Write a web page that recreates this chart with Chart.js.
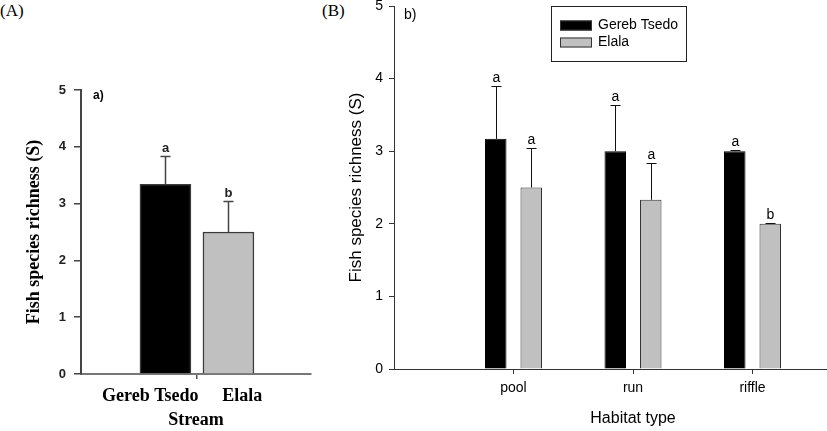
<!DOCTYPE html>
<html>
<head>
<meta charset="utf-8">
<script src="https://cdn.jsdelivr.net/npm/chart.js@4.4.0/dist/chart.umd.min.js"></script>
<style>
  html, body { margin: 0; padding: 0; background: #fff; width: 827px; height: 431px; overflow: hidden; position: relative; }
  .panel { position: absolute; top: 0; height: 431px; }
  #wrapA { left: 0; width: 320px; }
  #wrapB { left: 320px; width: 560px; }
  .tag { position: absolute; top: 1px; font-family: 'Liberation Serif', 'Times New Roman', serif; font-size: 17px; color: #000; }
</style>
</head>
<body>
<div class="tag" style="left:0">(A)</div>
<div class="tag" style="left:322px">(B)</div>
<div class="panel" id="wrapA"><canvas id="chartA" width="320" height="431"></canvas></div>
<div class="panel" id="wrapB"><canvas id="chartB" width="560" height="431"></canvas></div>
<script>
// panel A: richness by stream
const streams = ['Gereb Tsedo', 'Elala'];
const streamMeans = [3.34, 2.5];
const streamErr = [0.5, 0.55];
const streamLetters = ['a', 'b'];

// panel B: richness by habitat type
const habitats = ['pool', 'run', 'riffle'];
const gerebMeans = [3.17, 3.0, 3.0];
const gerebErr = [0.73, 0.64, 0.02];
const gerebLetters = ['a', 'a', 'a'];
const elalaMeans = [2.5, 2.33, 2.0];
const elalaErr = [0.54, 0.51, 0.01];
const elalaLetters = ['a', 'a', 'b'];

const yMax = 5;

const SERIF = "'Liberation Serif', 'Times New Roman', serif";
const SANS = "'Liberation Sans', Arial, sans-serif";

// where the stream names sit on panel A's x axis (between-bar tick at 1.5)
const streamLabelAt = [0.76, 2.22];

// error bars + significance letters
const errorBars = {
  id: 'errorBars',
  afterDatasetsDraw(chart, args, o) {
    const { ctx } = chart;
    const y = chart.scales.y;
    ctx.save();
    chart.data.datasets.forEach((ds, di) => {
      chart.getDatasetMeta(di).data.forEach((bar, i) => {
        const top = Math.round(y.getPixelForValue(ds.data[i].y + ds.errors[i])) + 0.5;
        const x = Math.round(bar.x) + 0.5;
        ctx.strokeStyle = o.color;
        ctx.lineWidth = o.width;
        ctx.beginPath();
        ctx.moveTo(x, bar.y);
        ctx.lineTo(x, top);
        ctx.moveTo(x - o.cap, top);
        ctx.lineTo(x + o.cap, top);
        ctx.stroke();
        ctx.fillStyle = o.letterColor;
        ctx.font = o.letterFont;
        ctx.textAlign = 'center';
        ctx.textBaseline = 'alphabetic';
        ctx.fillText(ds.letters[i], x, top - o.letterGap);
      });
    });
    ctx.restore();
  }
};

// panel sub-tag ("a)" / "b)") and optional boxed legend
const panelNotes = {
  id: 'panelNotes',
  afterDraw(chart, args, o) {
    const { ctx, chartArea } = chart;
    ctx.save();
    ctx.fillStyle = '#000';
    ctx.font = o.tagFont;
    ctx.textAlign = 'left';
    ctx.textBaseline = 'middle';
    ctx.fillText(o.tag, chartArea.left + o.tagDx, chartArea.top + o.tagDy);

    const lg = o.legend;
    if (lg) {
      ctx.strokeStyle = '#222';
      ctx.lineWidth = 1;
      ctx.strokeRect(lg.x + 0.5, lg.y + 0.5, lg.w, lg.h);
      ctx.font = lg.font;
      chart.data.datasets.forEach((ds, i) => {
        const cy = lg.y + lg.first + i * lg.step;
        ctx.fillStyle = ds.backgroundColor;
        ctx.fillRect(lg.x + 9, cy - 5, 32, 10);
        ctx.strokeStyle = '#333';
        ctx.strokeRect(lg.x + 9.5, cy - 4.5, 31, 9);
        ctx.fillStyle = '#000';
        ctx.fillText(ds.label, lg.x + 47, cy);
      });
    }
    ctx.restore();
  }
};

new Chart(document.getElementById('chartA'), {
  type: 'bar',
  data: {
    datasets: [{
      label: 'Stream',
      data: streams.map((s, i) => ({ x: i + 1, y: streamMeans[i] })),
      errors: streamErr,
      letters: streamLetters,
      backgroundColor: ['#000000', '#c0c0c0'],
      borderColor: '#3a3a3a',
      borderWidth: 1.5,
      barThickness: 51
    }]
  },
  options: {
    responsive: false,
    animation: false,
    layout: { padding: { top: 90, right: 9, bottom: 0, left: 0 } },
    plugins: {
      legend: { display: false },
      tooltip: { enabled: false },
      errorBars: { color: '#444', width: 1.5, cap: 5, letterGap: 5, letterColor: '#222', letterFont: 'bold 13px ' + SANS },
      panelNotes: { tag: 'a)', tagFont: 'bold 12px ' + SANS, tagDx: 12, tagDy: 6 }
    },
    scales: {
      x: {
        type: 'linear', min: -0.34, max: 3.31, offset: false,
        afterBuildTicks: s => { s.ticks = [streamLabelAt[0], 1.5, streamLabelAt[1]].map(v => ({ value: v })); },
        afterFit: s => { s.height = 57; s.paddingLeft = 0; s.paddingRight = 0; },
        ticks: {
          autoSkip: false, maxRotation: 0, padding: 7, color: '#000',
          font: { family: SERIF, size: 18, weight: 'bold' },
          callback: v => v === streamLabelAt[0] ? streams[0] : v === streamLabelAt[1] ? streams[1] : ''
        },
        grid: { offset: false, drawOnChartArea: false, tickLength: 5, lineWidth: 1.5, color: ctx => ctx.tick && ctx.tick.value === 1.5 ? '#555' : 'rgba(0,0,0,0)' },
        border: { color: '#777', width: 2 },
        title: { display: true, text: 'Stream', color: '#000', font: { family: SERIF, size: 18, weight: 'bold' }, padding: { top: 0, bottom: 0 } }
      },
      y: {
        min: 0, max: yMax,
        afterFit: s => { s.width = 81; s.paddingTop = 0; s.paddingBottom = 0; },
        ticks: { stepSize: 1, padding: 8, color: '#222', font: { family: SANS, size: 13, weight: 'bold' } },
        grid: { drawOnChartArea: false, tickLength: 7, lineWidth: 1.5, color: '#444' },
        border: { color: '#444', width: 2 },
        title: { display: true, text: 'Fish species richness (S)', color: '#000', font: { family: SERIF, size: 18, weight: 'bold' }, padding: { top: 24, bottom: 0 } }
      }
    }
  },
  plugins: [errorBars, panelNotes]
});

new Chart(document.getElementById('chartB'), {
  type: 'bar',
  data: {
    datasets: [
      {
        label: 'Gereb Tsedo',
        data: habitats.map((h, i) => ({ x: i + 1, y: gerebMeans[i] })),
        errors: gerebErr,
        letters: gerebLetters,
        backgroundColor: '#000000',
        borderColor: '#000000',
        borderWidth: 1
      },
      {
        label: 'Elala',
        data: habitats.map((h, i) => ({ x: i + 1, y: elalaMeans[i] })),
        errors: elalaErr,
        letters: elalaLetters,
        backgroundColor: '#c0c0c0',
        borderColor: '#333333',
        borderWidth: 1
      }
    ]
  },
  options: {
    responsive: false,
    animation: false,
    categoryPercentage: 0.594,
    barPercentage: 0.606,
    layout: { padding: { top: 6, right: 8, bottom: 0, left: 0 } },
    plugins: {
      legend: { display: false },
      tooltip: { enabled: false },
      errorBars: { color: '#111', width: 1, cap: 5, letterGap: 5, letterColor: '#000', letterFont: '14px ' + SANS },
      panelNotes: {
        tag: 'b)', tagFont: '14px ' + SANS, tagDx: 10, tagDy: 9,
        legend: { x: 231, y: 6, w: 135, h: 55, first: 19.5, step: 17, font: '14px ' + SANS }
      }
    },
    scales: {
      x: {
        type: 'linear', min: 0, max: 4, offset: false,
        afterBuildTicks: s => { s.ticks = habitats.map((h, i) => ({ value: i + 1 })); },
        afterFit: s => { s.height = 62; s.paddingLeft = 0; s.paddingRight = 0; },
        ticks: { autoSkip: false, maxRotation: 0, padding: 6, color: '#000', font: { family: SANS, size: 14 }, callback: v => habitats[v - 1] },
        grid: { offset: false, drawOnChartArea: false, tickLength: 5, color: '#333' },
        border: { color: '#333', width: 1 },
        title: { display: true, text: 'Habitat type', color: '#000', font: { family: SANS, size: 16 }, padding: { top: 0, bottom: 3 } }
      },
      y: {
        min: 0, max: yMax,
        afterFit: s => { s.width = 74; s.paddingTop = 0; s.paddingBottom = 0; },
        ticks: { stepSize: 1, padding: 6, color: '#000', font: { family: SANS, size: 14 } },
        grid: { drawOnChartArea: false, tickLength: 5, color: '#333' },
        border: { color: '#333', width: 1 },
        title: { display: true, text: 'Fish species richness (S)', color: '#000', font: { family: SANS, size: 17 }, padding: { top: 26, bottom: 0 } }
      }
    }
  },
  plugins: [errorBars, panelNotes]
});
</script>
</body>
</html>
